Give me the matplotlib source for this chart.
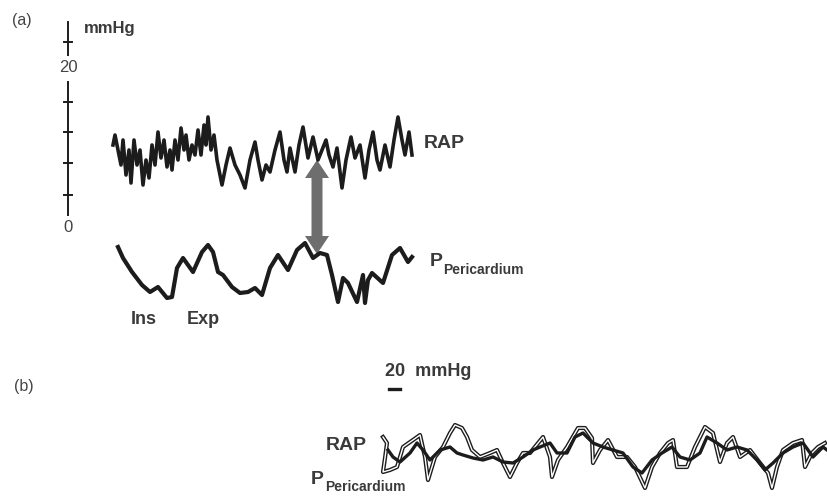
import matplotlib
matplotlib.use("Agg")
import matplotlib.pyplot as plt
from matplotlib.patches import FancyArrow

plt.rcParams['font.family'] = ['Liberation Sans', 'DejaVu Sans']

# ---------------- data (pixel-like units) ----------------
# Panel (a) right atrial pressure trace
rap_a_x = [113,115,118,121,123,126,129,131,134,137,140,143,146,149,152,155,158,161,164,167,
           170,172,175,178,181,184,186,189,192,195,198,201,204,206,208,211,214,217,222,226,
           230,235,240,245,250,255,258,262,266,270,275,280,284,287,290,295,299,303,308,313,
           318,322,326,329,333,337,342,346,351,355,360,365,369,373,377,380,385,390,394,398,
           402,405,409,412]
rap_a_y = [145,135,150,165,140,175,150,183,140,165,150,185,160,178,145,165,132,158,140,167,
           150,170,140,160,128,150,135,160,145,155,130,155,125,145,117,150,135,160,185,165,
           148,165,175,188,160,142,160,180,165,172,150,132,160,172,148,172,145,127,158,137,
           160,150,140,155,167,148,188,160,137,158,145,178,150,132,160,170,145,167,140,117,
           140,155,132,155]

# Panel (a) pericardial pressure trace
pp_a_x = [118,123,132,142,150,158,167,172,177,183,193,202,208,213,218,223,232,240,248,255,
          262,270,278,288,297,305,313,320,327,332,338,343,348,357,363,365,368,372,383,392,
          400,408,412]
pp_a_y = [247,258,272,285,292,287,298,297,268,258,272,252,245,252,272,275,287,293,292,288,
          295,268,255,270,250,243,258,253,255,275,302,278,283,302,275,303,280,273,283,255,
          248,262,257]

# Scale of panel (a)
scale_ticks = [42, 102, 132, 163, 195]
scale_labels = {"20": 67, "0": 227}

# Panel (b) traces
pp_b_x = [383,387,385,383,390,397,403,413,420,425,428,435,443,450,455,462,467,472,480,490,
          497,503,510,517,523,530,543,550,552,558,567,578,585,592,593,600,608,617,627,635,
          645,652,660,668,673,677,687,695,705,713,720,727,733,740,750,760,768,772,777,783,
          793,802,805,812,818,825]
pp_b_y = [437,443,458,472,470,467,447,440,435,457,480,457,447,433,425,428,437,450,457,453,
          450,463,477,463,453,453,437,457,477,460,447,428,428,438,463,450,440,457,457,467,
          488,467,453,443,440,467,467,447,427,433,462,443,437,457,450,463,473,488,467,450,
          443,440,467,453,447,443]
rap_b_x = [388,393,400,410,417,423,430,440,450,457,463,473,483,493,503,513,523,533,540,550,
           557,567,575,583,593,603,613,623,633,642,652,662,672,680,690,700,707,717,727,737,
           747,757,765,773,783,793,803,813,823,827]
rap_b_y = [450,457,462,453,443,450,460,450,447,453,455,458,460,457,462,463,457,450,447,443,
           453,453,437,433,443,447,450,453,467,473,460,453,447,457,460,453,437,443,450,447,
           450,460,470,463,453,447,443,457,447,450]

# ---------------- figure ----------------
W, H = 827, 497
fig = plt.figure(figsize=(W / 100, H / 100), dpi=100)
ax = fig.add_axes([0, 0, 1, 1])
ax.set_xlim(0, W)
ax.set_ylim(H, 0)
ax.axis('off')

ink = '#1c1c1c'
txt = '#3a3a3a'
tk = dict(color=txt, fontweight='bold')

# panel (a) scale
ax.plot([68, 68], [22, 55], color=ink, lw=1.4)
ax.plot([68, 68], [82, 215], color=ink, lw=1.4)
for t in scale_ticks:
    ax.plot([64, 72], [t, t], color=ink, lw=1.4)
for lab, yy in scale_labels.items():
    ax.text(68, yy, lab, ha='center', va='center', fontsize=12, color='#444444')
ax.text(84, 29, 'mmHg', ha='left', va='center', fontsize=12, **tk)
ax.text(12, 21, '(a)', ha='left', va='center', fontsize=11.5, color='#444444')

# panel (a) traces
ax.plot(rap_a_x, rap_a_y, color=ink, lw=2.6, solid_joinstyle='round')
ax.plot(pp_a_x, pp_a_y, color=ink, lw=3.0, solid_joinstyle='round')

# double-headed arrow (two heads from the middle)
mid = 207
for y0, dy in ((mid, 160 - mid), (mid, 254 - mid)):
    ax.add_patch(FancyArrow(317, y0, 0, dy, width=11, head_width=24, head_length=18,
                            length_includes_head=True, color='#6e6e6e', lw=0))

ax.text(424, 143, 'RAP', ha='left', va='center', fontsize=14, **tk)
ax.text(430, 261, 'P', ha='left', va='center', fontsize=14, **tk)
ax.text(443, 270, 'Pericardium', ha='left', va='center', fontsize=10, **tk)
ax.text(131, 319, 'Ins', ha='left', va='center', fontsize=13, **tk)
ax.text(187, 319, 'Exp', ha='left', va='center', fontsize=13, **tk)

# panel (b)
ax.text(14, 386, '(b)', ha='left', va='center', fontsize=11.5, color='#444444')
ax.text(385, 372, '20  mmHg', ha='left', va='center', fontsize=13, **tk)
ax.plot([389, 400], [389, 389], color=ink, lw=2.4)
ax.text(326, 446, 'RAP', ha='left', va='center', fontsize=14, **tk)
ax.text(311, 479, 'P', ha='left', va='center', fontsize=14, **tk)
ax.text(325, 487, 'Pericardium', ha='left', va='center', fontsize=10, **tk)

ax.plot(pp_b_x, pp_b_y, color=ink, lw=3.0, solid_joinstyle='round')
ax.plot(pp_b_x, pp_b_y, color='white', lw=1.0, solid_joinstyle='round')
ax.plot(rap_b_x, rap_b_y, color=ink, lw=2.4, solid_joinstyle='round')

fig.savefig('out.png', dpi=100)
